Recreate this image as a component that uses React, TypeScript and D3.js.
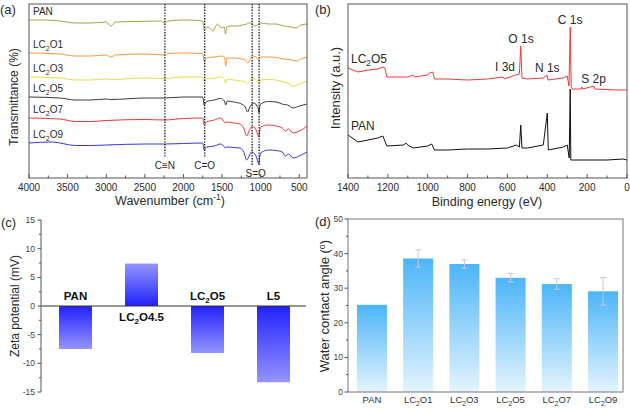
import React from "react";
import * as d3 from "d3";

type P = [number, number];

// ---------- (a) FTIR ----------
const ftirNames = ["PAN", "LC2O1", "LC2O3", "LC2O5", "LC2O7", "LC2O9"];
const ftirColors = ["#a3a345", "#ff9438", "#e4dc48", "#3a3a3a", "#ee3434", "#3434e8"];
const ftirPAN: P[] = [[4000,158],[3800,158],[3600,157],[3400,155],[3200,155],[3000,156],[2940,152],[2880,156],[2600,156.5],[2300,157],[2245,155],[2200,157],[2000,158],[1800,157.5],[1750,157],[1732,148],[1700,151],[1660,150],[1620,147],[1580,152],[1560,154],[1510,150],[1470,151],[1455,144],[1440,151],[1380,152],[1300,152],[1240,153],[1180,154],[1160,155],[1120,155],[1080,152],[1040,153],[1000,155],[900,154],[800,154],[700,152],[600,151],[540,150],[480,153],[400,154]];
const ftirLC2O1: P[] = [[4000,125],[3600,124],[3400,122],[3200,122],[3000,123],[2940,121],[2880,123],[2500,124],[2245,123],[2200,124.5],[2000,125],[1750,124.5],[1732,116.5],[1700,120],[1600,121],[1500,122],[1470,121],[1452,112],[1435,120],[1350,120],[1250,119],[1200,118],[1165,115],[1140,118],[1110,122],[1060,121],[1030,118],[1000,121],[900,121],[800,120.5],[700,119],[600,118],[540,117],[480,119],[400,121]];
const ftirLC2O3: P[] = [[4000,101],[3600,100],[3400,98],[3200,98],[3000,99],[2940,98.5],[2500,100],[2245,99.5],[2000,101],[1750,101],[1732,96],[1700,99],[1600,100],[1520,101],[1470,99],[1452,95],[1435,99],[1350,98],[1250,97],[1200,96],[1170,94],[1140,97],[1110,100],[1060,98],[1030,96],[1020,94],[1000,98],[900,98.5],[800,98],[700,96],[650,95],[580,92],[500,94],[450,95.5],[400,97]];
const ftirLC2O5: P[] = [[4000,81],[3600,80],[3400,78],[3200,78],[3000,79],[2940,78.5],[2500,80],[2245,80],[2000,81],[1750,81],[1732,73],[1700,76.5],[1600,78],[1520,79.5],[1470,77],[1452,73],[1435,77],[1350,76],[1250,74],[1200,71],[1170,66],[1140,71],[1110,74],[1080,75],[1050,72],[1030,69],[1022,65],[1010,72],[1000,74],[900,76.5],[800,76],[700,73.5],[650,73],[580,70],[500,72],[450,73],[400,74]];
const ftirLC2O7: P[] = [[4000,60],[3600,59],[3400,56.5],[3200,56.5],[3000,57.5],[2500,58.5],[2245,58],[2000,59.5],[1750,60],[1732,53],[1700,56],[1600,58],[1520,60],[1480,57],[1460,55],[1440,56],[1350,55],[1270,54],[1220,50],[1180,42],[1150,47],[1120,51],[1090,51],[1060,48],[1035,43],[1025,41],[1010,48],[1000,51],[900,53],[800,52],[720,50],[680,47],[640,49],[580,45],[500,47],[450,49],[400,52]];
const ftirLC2O9: P[] = [[4000,35],[3700,36],[3400,32.5],[3200,32.5],[3000,33],[2500,34],[2245,34],[2000,34.5],[1750,35],[1732,28],[1700,31],[1600,32],[1520,34],[1480,32],[1460,30],[1440,31],[1350,30.5],[1270,30],[1220,26],[1180,18],[1150,22],[1120,26],[1090,25],[1060,22],[1035,16],[1025,14],[1010,22],[1000,25],[900,28],[800,27.5],[720,26],[680,22],[640,24],[580,20],[500,22],[450,24],[400,26]];
const ftirData = [ftirPAN, ftirLC2O1, ftirLC2O3, ftirLC2O5, ftirLC2O7, ftirLC2O9];
const ftirTicks = [4000, 3500, 3000, 2500, 2000, 1500, 1000, 500];
const ftirMarkers = [2240, 1725, 1110, 1020];
const ftirMarkerLabels = [
  { label: "C≡N", wn: 2240, low: false },
  { label: "C=O", wn: 1725, low: false },
  { label: "S=O", wn: 1065, low: true },
];

// ---------- (b) XPS ----------
const xpsNames = ["LC2O5", "PAN"];
const xpsColors = ["#f03a3a", "#111111"];
const xpsLC2O5: P[] = [[1400,110],[1350,106],[1300,108],[1250,109],[1225,111],[1215,110],[1205,101],[1100,101],[1072,103],[1065,101],[1000,103],[990,105],[975,106],[966,99],[900,99],[800,98],[700,99],[622,101],[615,99],[560,103],[540,104],[533,132],[527,100],[500,99],[420,100],[402,103],[396,98],[320,100],[300,102],[291,92],[285,151],[280,91],[275,89],[230,89],[226,91],[222,89],[166,92],[162,89],[50,88],[0,88]];
const xpsPAN: P[] = [[1400,43],[1350,36],[1300,38],[1250,40],[1225,42],[1205,32],[1120,33],[1110,35],[1100,33],[1072,30],[1000,32],[980,34],[966,28],[900,28],[800,29],[700,29],[600,30],[555,33],[540,31],[533,53],[527,30],[500,30],[420,33],[400,65],[395,28],[320,31],[300,33],[290,20],[285,89],[282,18],[270,18],[100,18],[20,19],[0,18]];
const xpsData = [xpsLC2O5, xpsPAN];
const xpsTicks = [1400, 1200, 1000, 800, 600, 400, 200, 0];
const xpsPeakLabels = [
  { label: "C 1s", eV: 285, I: 151 },
  { label: "O 1s", eV: 532, I: 132 },
  { label: "I 3d", eV: 612, I: 104 },
  { label: "N 1s", eV: 400, I: 103 },
  { label: "S 2p", eV: 168, I: 92 },
];

// ---------- (c) Zeta ----------
const zetaCategories = ["PAN", "LC2O4.5", "LC2O5", "L5"];
const zetaValues = [-7.5, 7.4, -8.2, -13.3];
const zetaTicks = [15, 10, 5, 0, -5, -10, -15];

// ---------- (d) Water contact angle ----------
const wcaCategories = ["PAN", "LC2O1", "LC2O3", "LC2O5", "LC2O7", "LC2O9"];
const wcaValues = [25.2, 38.6, 37.0, 33.0, 31.2, 29.1];
const wcaErrors = [0, 2.5, 1.2, 1.2, 1.5, 4.0];
const wcaTicks = [0, 10, 20, 30, 40, 50];

const FONT = "'Liberation Sans', Arial, Helvetica, sans-serif";
const TXT = "#2a2a2a";

function Lbl(props: { x: number; y: number; text: string; size: number; anchor?: string; weight?: string; fill?: string }) {
  const { x, y, text, size, anchor = "start", weight = "normal", fill = TXT } = props;
  const common = { x, y, fontSize: size, textAnchor: anchor as any, fontWeight: weight, fill, fontFamily: FONT };
  if (text.startsWith("LC2")) {
    const rest = text.slice(3);
    return (
      <text {...common}>
        LC<tspan fontSize={size * 0.7} dy={size * 0.28}>2</tspan>
        <tspan dy={-size * 0.28}>{rest}</tspan>
      </text>
    );
  }
  return <text {...common}>{text}</text>;
}

function PanelA() {
  const x = d3.scaleLinear().domain([4000, 400]).range([29, 307]);
  const y = d3.scaleLinear().domain([0, 175]).range([178, 3]);
  const line = d3.line<P>().x((d) => x(d[0])).y((d) => y(d[1])).curve(d3.curveMonotoneX);
  const minor = d3.range(3750, 400, -500);
  return (
    <g>
      {ftirData.map((s, i) => (
        <path key={i} d={line(s) || ""} fill="none" stroke={ftirColors[i]} strokeWidth={1} />
      ))}
      {ftirMarkers.map((w, i) => (
        <line key={i} x1={x(w)} x2={x(w)} y1={4} y2={w < 1200 ? 166 : 158} stroke="#111" strokeWidth={1.3} strokeDasharray="1.4,1.4" />
      ))}
      {ftirMarkerLabels.map((m, i) => (
        <text key={i} x={x(m.wn)} y={m.low ? 177 : 169} fontSize={10} textAnchor="middle" fill={TXT} fontFamily={FONT}>{m.label}</text>
      ))}
      {ftirNames.map((n, i) => (
        <Lbl key={n} x={33} y={y(ftirData[i][0][1]) - 5} text={n} size={10} />
      ))}
      <rect x={29} y={4} width={278} height={174} fill="none" stroke="#555" strokeWidth={1} />
      {ftirTicks.map((t) => (
        <g key={t}>
          <line x1={x(t)} x2={x(t)} y1={178} y2={174} stroke="#555" />
          <text x={x(t)} y={191} fontSize={10} textAnchor="middle" fill={TXT} fontFamily={FONT}>{t}</text>
        </g>
      ))}
      {minor.map((t) => (
        <line key={t} x1={x(t)} x2={x(t)} y1={178} y2={175.5} stroke="#555" />
      ))}
      <text x={170} y={205} fontSize={12.5} textAnchor="middle" fill={TXT} fontFamily={FONT}>
        Wavenumber (cm<tspan fontSize={8.5} dy={-5}>-1</tspan><tspan dy={5}>)</tspan>
      </text>
      <text transform="translate(18,97) rotate(-90)" fontSize={12} textAnchor="middle" fill={TXT} fontFamily={FONT}>Transmittance (%)</text>
      <text x={0} y={14} fontSize={13} fill={TXT} fontFamily={FONT}>(a)</text>
    </g>
  );
}

function PanelB() {
  const x = d3.scaleLinear().domain([1400, 0]).range([348, 627]);
  const y = d3.scaleLinear().domain([0, 174]).range([178, 4]);
  const line = d3.line<P>().x((d) => x(d[0])).y((d) => y(d[1]));
  const minor = d3.range(1300, 0, -200);
  return (
    <g>
      {xpsData.map((s, i) => (
        <path key={i} d={line(s) || ""} fill="none" stroke={xpsColors[i]} strokeWidth={1} />
      ))}
      {xpsPeakLabels.map((p) => (
        <text key={p.label} x={x(p.eV)} y={y(p.I) - 3} fontSize={12} textAnchor="middle" fill={TXT} fontFamily={FONT}>{p.label}</text>
      ))}
      {xpsNames.map((n, i) => (
        <Lbl key={n} x={351} y={y(xpsData[i][0][1]) - 5} text={n} size={12} />
      ))}
      <rect x={348} y={4} width={279} height={174} fill="none" stroke="#555" strokeWidth={1} />
      {xpsTicks.map((t) => (
        <g key={t}>
          <line x1={x(t)} x2={x(t)} y1={178} y2={174} stroke="#555" />
          <text x={x(t)} y={191} fontSize={10} textAnchor="middle" fill={TXT} fontFamily={FONT}>{t}</text>
        </g>
      ))}
      {minor.map((t) => (
        <line key={t} x1={x(t)} x2={x(t)} y1={178} y2={175.5} stroke="#555" />
      ))}
      <text x={487} y={206} fontSize={12.5} textAnchor="middle" fill={TXT} fontFamily={FONT}>Binding energy (eV)</text>
      <text transform="translate(340,88) rotate(-90)" fontSize={13} textAnchor="middle" fill={TXT} fontFamily={FONT}>Intensity (a.u.)</text>
      <text x={315} y={14} fontSize={13} fill={TXT} fontFamily={FONT}>(b)</text>
    </g>
  );
}

function PanelC() {
  const y = d3.scaleLinear().domain([-15, 15]).range([392, 220]);
  const x = d3.scaleBand<string>().domain(zetaCategories).range([42.5, 306.5]).paddingInner(0.5).paddingOuter(0.25);
  const minor = d3.range(-12.5, 15, 5);
  return (
    <g>
      {zetaCategories.map((c, i) => {
        const v = zetaValues[i];
        const y0 = y(0), y1 = y(v);
        return (
          <rect key={c} x={x(c)} width={x.bandwidth()} y={Math.min(y0, y1)} height={Math.abs(y1 - y0)}
            fill={v < 0 ? "url(#zetaNeg)" : "url(#zetaPos)"} />
        );
      })}
      <line x1={41} x2={306} y1={y(0)} y2={y(0)} stroke="#333" strokeWidth={1.2} />
      {zetaCategories.map((c, i) => {
        const v = zetaValues[i];
        return (
          <Lbl key={c} x={(x(c) || 0) + x.bandwidth() / 2} y={v < 0 ? y(0) - 6 : y(0) + 15} text={c} size={11.5} anchor="middle" weight="bold" fill="#111" />
        );
      })}
      <line x1={41} x2={41} y1={220} y2={392} stroke="#555" />
      {zetaTicks.map((t) => (
        <g key={t}>
          <line x1={37.5} x2={41} y1={y(t)} y2={y(t)} stroke="#555" />
          <text x={35} y={y(t) + 3} fontSize={8.5} textAnchor="end" fill="#444" fontFamily={FONT}>{t}</text>
        </g>
      ))}
      {minor.map((t) => (
        <line key={t} x1={39} x2={41} y1={y(t)} y2={y(t)} stroke="#555" />
      ))}
      <text transform="translate(19,306) rotate(-90)" fontSize={12} textAnchor="middle" fill={TXT} fontFamily={FONT}>Zeta potential (mV)</text>
      <text x={1} y={227} fontSize={13} fill={TXT} fontFamily={FONT}>(c)</text>
    </g>
  );
}

function PanelD() {
  const y = d3.scaleLinear().domain([0, 50]).range([392, 219]);
  const x = d3.scaleBand<string>().domain(wcaCategories).range([350, 625]).paddingInner(0.35).paddingOuter(0.15);
  const minor = d3.range(5, 50, 10);
  return (
    <g>
      {wcaCategories.map((c, i) => (
        <rect key={c} x={x(c)} width={x.bandwidth()} y={y(wcaValues[i])} height={y(0) - y(wcaValues[i])} fill="url(#wcaGrad)" />
      ))}
      {wcaCategories.map((c, i) => {
        if (!wcaErrors[i]) return null;
        const cx = (x(c) || 0) + x.bandwidth() / 2;
        const top = y(wcaValues[i] + wcaErrors[i]);
        const bot = y(wcaValues[i] - wcaErrors[i]);
        return (
          <g key={c} stroke="#c6c6f0" strokeWidth={1}>
            <line x1={cx} x2={cx} y1={top} y2={bot} />
            <line x1={cx - 3} x2={cx + 3} y1={top} y2={top} />
            <line x1={cx - 3} x2={cx + 3} y1={bot} y2={bot} />
          </g>
        );
      })}
      <rect x={348} y={219} width={275} height={173} fill="none" stroke="#777" strokeWidth={1} />
      {wcaTicks.map((t) => (
        <g key={t}>
          <line x1={344.5} x2={348} y1={y(t)} y2={y(t)} stroke="#555" />
          <text x={343} y={y(t) + 3} fontSize={8.5} textAnchor="end" fill="#444" fontFamily={FONT}>{t}</text>
        </g>
      ))}
      {minor.map((t) => (
        <line key={t} x1={346} x2={348} y1={y(t)} y2={y(t)} stroke="#555" />
      ))}
      {wcaCategories.map((c) => (
        <Lbl key={c} x={(x(c) || 0) + x.bandwidth() / 2} y={403} text={c} size={9.5} anchor="middle" fill="#333" />
      ))}
      <text transform="translate(329,306) rotate(-90)" fontSize={13} textAnchor="middle" fill={TXT} fontFamily={FONT}>
        Water contact angle (<tspan fontSize={9} dy={-4}>o</tspan><tspan dy={4}>)</tspan>
      </text>
      <text x={315} y={226} fontSize={13} fill={TXT} fontFamily={FONT}>(d)</text>
    </g>
  );
}

export default function App() {
  return (
    <svg width={630} height={409} viewBox="0 0 630 409" style={{ position: "fixed", left: 0, top: 0, background: "#fff" }}>
      <defs>
        <linearGradient id="zetaNeg" x1="0" y1="0" x2="0" y2="1">
          <stop offset="0" stopColor="#2222ff" />
          <stop offset="1" stopColor="#9494ff" />
        </linearGradient>
        <linearGradient id="zetaPos" x1="0" y1="1" x2="0" y2="0">
          <stop offset="0" stopColor="#2222ff" />
          <stop offset="1" stopColor="#9494ff" />
        </linearGradient>
        <linearGradient id="wcaGrad" x1="0" y1="0" x2="0" y2="1">
          <stop offset="0" stopColor="#4cb5f8" />
          <stop offset="1" stopColor="#e4f4fe" />
        </linearGradient>
      </defs>
      <rect width={630} height={409} fill="#fff" />
      <PanelA />
      <PanelB />
      <PanelC />
      <PanelD />
    </svg>
  );
}
